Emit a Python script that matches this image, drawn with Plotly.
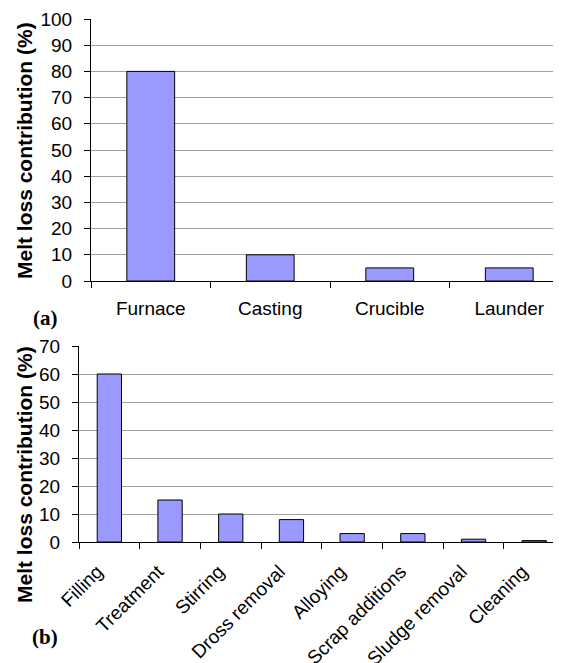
import plotly.graph_objects as go

# ---- data ----
top_categories = ["Furnace", "Casting", "Crucible", "Launder"]
top_values = [80, 10, 5, 5]
bottom_categories = ["Filling", "Treatment", "Stirring", "Dross removal",
                     "Alloying", "Scrap additions", "Sludge removal", "Cleaning"]
bottom_values = [60, 15, 10, 8, 3, 3, 1, 0.5]
top_yticks = [0, 10, 20, 30, 40, 50, 60, 70, 80, 90, 100]
bottom_yticks = [0, 10, 20, 30, 40, 50, 60, 70]
y_title = "Melt loss contribution (%)"
panel_labels = ["(a)", "(b)"]

W, H = 561, 663
OFF = 8  # page body margin offset
SANS = "Arial, Liberation Sans, sans-serif"
SERIF = "Times New Roman, Liberation Serif, serif"
BAR_COLOR = "#9999FF"
GRID = "#A0A0A0"


def px_x(p):
    return (p - OFF) / W


def px_y(p):
    return 1 - (p - OFF) / H


fig = go.Figure()
fig.add_trace(go.Bar(x=top_categories, y=top_values, xaxis="x", yaxis="y",
                     width=0.4,
                     marker=dict(color=BAR_COLOR, line=dict(color="black", width=1))))
fig.add_trace(go.Bar(x=bottom_categories, y=bottom_values, xaxis="x2", yaxis="y2",
                     width=0.4,
                     marker=dict(color=BAR_COLOR, line=dict(color="black", width=1))))

common_x = dict(type="category", tickson="boundaries", ticks="outside", ticklen=6,
                tickcolor="black", showline=True, linecolor="black", linewidth=1,
                showgrid=False, zeroline=False, fixedrange=True, automargin=False)
common_y = dict(ticks="outside", ticklen=6, tickcolor="black", showline=True,
                linecolor="black", linewidth=1, showgrid=True, gridcolor=GRID,
                gridwidth=1, zeroline=False, ticklabelstandoff=8, automargin=False)

fig.update_layout(
    width=W, height=H,
    margin=dict(l=0, r=0, t=0, b=0, pad=0, autoexpand=False),
    paper_bgcolor="white", plot_bgcolor="white",
    showlegend=False,
    font=dict(family=SANS, color="black"),
    xaxis=dict(domain=[px_x(91), px_x(561)], anchor="y",
               range=[-0.5, -0.5 + 470 / 119.5], ticklabelstandoff=10,
               tickfont=dict(size=19, family=SANS), **common_x),
    yaxis=dict(domain=[px_y(281), px_y(19)], anchor="x", range=[0, 100],
               tickvals=top_yticks, tickfont=dict(size=19, family=SANS), **common_y),
    xaxis2=dict(domain=[px_x(79), px_x(561)], anchor="y2",
                range=[-0.5, -0.5 + 482 / 60.7], tickangle=-45,
                ticklabelstandoff=10, ticklabelshift=-12,
                tickfont=dict(size=19, family=SANS), **common_x),
    yaxis2=dict(domain=[px_y(542), px_y(346)], anchor="x2", range=[0, 70],
                tickvals=bottom_yticks, tickfont=dict(size=19, family=SANS), **common_y),
    annotations=[
        dict(text="<b>" + y_title + "</b>", xref="paper", yref="paper",
             x=px_x(24), y=px_y(151), textangle=-90, showarrow=False,
             xanchor="center", yanchor="middle",
             font=dict(size=21, family=SANS)),
        dict(text="<b>" + y_title + "</b>", xref="paper", yref="paper",
             x=px_x(24), y=px_y(475), textangle=-90, showarrow=False,
             xanchor="center", yanchor="middle",
             font=dict(size=21, family=SANS)),
        dict(text="<b>" + panel_labels[0] + "</b>", xref="paper", yref="paper",
             x=px_x(45), y=px_y(318), showarrow=False,
             xanchor="center", yanchor="middle",
             font=dict(size=21, family=SERIF)),
        dict(text="<b>" + panel_labels[1] + "</b>", xref="paper", yref="paper",
             x=px_x(45), y=px_y(637), showarrow=False,
             xanchor="center", yanchor="middle",
             font=dict(size=21, family=SERIF)),
    ],
)

fig.write_html("out.html")
